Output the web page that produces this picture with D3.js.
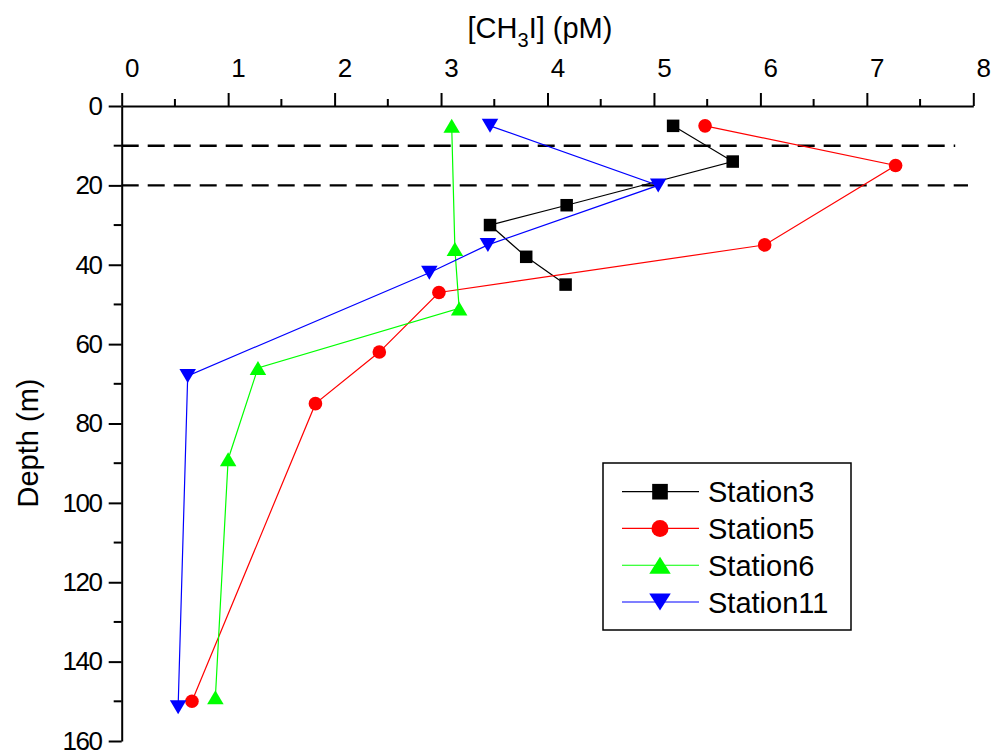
<!DOCTYPE html>
<html>
<head>
<meta charset="utf-8">
<script src="https://cdn.jsdelivr.net/npm/d3@7"></script>
<style>
  html, body { margin: 0; padding: 0; background: #fff; }
  svg { display: block; font-family: "Liberation Sans", Arial, sans-serif; }
</style>
</head>
<body>
<svg id="chart" width="992" height="751"></svg>
<script>
// ---- data ----
const xTicks = [0, 1, 2, 3, 4, 5, 6, 7, 8];
const yTicks = [0, 20, 40, 60, 80, 100, 120, 140, 160];
const stationNames = ["Station3", "Station5", "Station6", "Station11"];
const stationColors = ["#000000", "#ff0000", "#00ff00", "#0000ff"];
const stationSymbols = ["square", "circle", "triUp", "triDown"];

const station3Conc  = [5.18, 5.74, 4.18, 3.46, 3.80, 4.17];
const station3Depth = [5, 14, 25, 30, 38, 45];
const station5Conc  = [5.48, 7.27, 6.04, 2.98, 2.42, 1.82, 0.66];
const station5Depth = [5, 15, 35, 47, 62, 75, 150];
const station6Conc  = [3.10, 3.13, 3.17, 1.28, 1.00, 0.88];
const station6Depth = [5, 36, 51, 66, 89, 149];
const station11Conc  = [3.46, 5.04, 3.44, 2.89, 0.62, 0.53];
const station11Depth = [5, 20, 35, 42, 68, 151.5];

const refDepths = [10, 20];
const refEnds = [7.83, 7.95];

const series = [
  {conc: station3Conc, depth: station3Depth},
  {conc: station5Conc, depth: station5Depth},
  {conc: station6Conc, depth: station6Depth},
  {conc: station11Conc, depth: station11Depth}
].map((s, i) => ({
  name: stationNames[i], color: stationColors[i], symbol: stationSymbols[i],
  points: s.conc.map((c, j) => ({x: c, y: s.depth[j]}))
}));

// ---- layout ----
const svg = d3.select("#chart");
const x = d3.scaleLinear().domain([0, 8]).range([121.7, 973.3]);
const y = d3.scaleLinear().domain([0, 160]).range([106, 741]);

// symbol drawer
function drawSymbol(g, type, cx, cy, color, big) {
  const k = big ? 1.25 : 1;
  if (type === "square") {
    const s = 12.5 * k;
    g.append("rect").attr("x", cx - s / 2).attr("y", cy - s / 2)
      .attr("width", s).attr("height", s).attr("fill", color);
  } else if (type === "circle") {
    g.append("circle").attr("cx", cx).attr("cy", cy).attr("r", 6.8 * k).attr("fill", color);
  } else if (type === "triUp") {
    const w = (big ? 21.5 : 16.5), h = (big ? 17 : 14);
    g.append("path").attr("d", `M${cx - w / 2},${cy + h / 2}L${cx + w / 2},${cy + h / 2}L${cx},${cy - h / 2}Z`)
      .attr("fill", color);
  } else if (type === "triDown") {
    const w = (big ? 21.5 : 16.5), h = (big ? 17 : 14);
    g.append("path").attr("d", `M${cx - w / 2},${cy - h / 2}L${cx + w / 2},${cy - h / 2}L${cx},${cy + h / 2}Z`)
      .attr("fill", color);
  }
}

// ---- reference dashed lines ----
svg.append("g").selectAll("line").data(refDepths).join("line")
  .attr("x1", x(0)).attr("x2", (d, i) => x(refEnds[i]))
  .attr("y1", d => y(d)).attr("y2", d => y(d))
  .attr("stroke", "#000").attr("stroke-width", 2.4)
  .attr("stroke-dasharray", "17,9");

// ---- axes ----
const fontTick = 26;
const tickSpacing = -1.5;
const xMinor = d3.range(0.5, 8, 1);
const yMinor = d3.range(10, 160, 20);

const gx = svg.append("g").attr("transform", `translate(0,${y(0)})`);
gx.call(d3.axisTop(x).tickValues(xTicks).tickSize(13).tickSizeOuter(0).tickPadding(16).tickFormat(d3.format("d")));
gx.selectAll("text").attr("dx", 9.2).attr("font-size", fontTick).attr("letter-spacing", tickSpacing)
  .attr("font-family", "Liberation Sans, Arial, sans-serif").attr("fill", "#000");
gx.append("g").selectAll("line").data(xMinor).join("line")
  .attr("x1", d => x(d)).attr("x2", d => x(d)).attr("y1", 0).attr("y2", -7)
  .attr("stroke", "#000").attr("stroke-width", 2);

const gy = svg.append("g").attr("transform", `translate(${x(0)},0)`);
gy.call(d3.axisLeft(y).tickValues(yTicks).tickSize(13).tickSizeOuter(0).tickPadding(7.2).tickFormat(d3.format("d")));
gy.selectAll("text").attr("font-size", fontTick).attr("letter-spacing", tickSpacing)
  .attr("font-family", "Liberation Sans, Arial, sans-serif").attr("fill", "#000");
gy.append("g").selectAll("line").data(yMinor).join("line")
  .attr("x1", 0).attr("x2", -8).attr("y1", d => y(d)).attr("y2", d => y(d))
  .attr("stroke", "#000").attr("stroke-width", 2);

svg.selectAll(".domain, .tick line").attr("stroke", "#000").attr("stroke-width", 2);

// ---- series ----
const line = d3.line().x(d => x(d.x)).y(d => y(d.y));
series.forEach(s => {
  svg.append("path").datum(s.points).attr("d", line)
    .attr("fill", "none").attr("stroke", s.color).attr("stroke-width", 1.2);
});
series.forEach(s => {
  const g = svg.append("g");
  s.points.forEach(p => drawSymbol(g, s.symbol, x(p.x), y(p.y), s.color, false));
});

// ---- titles ----
const title = svg.append("text").attr("x", 540).attr("y", 38)
  .attr("text-anchor", "middle").attr("font-size", 29).attr("fill", "#000");
title.append("tspan").text("[CH");
title.append("tspan").attr("font-size", 20).attr("dy", 9).text("3");
title.append("tspan").attr("dy", -9).text("I] (pM)");

svg.append("text").attr("transform", "translate(38,443) rotate(-90)")
  .attr("text-anchor", "middle").attr("font-size", 29).attr("fill", "#000")
  .text("Depth (m)");

// ---- legend ----
const legend = svg.append("g");
legend.append("rect").attr("x", 603).attr("y", 463).attr("width", 248).attr("height", 167)
  .attr("fill", "#fff").attr("stroke", "#000").attr("stroke-width", 1.5);
const rowY = d3.scalePoint().domain(stationNames).range([491.7, 602]);
series.forEach(s => {
  const cy = rowY(s.name);
  legend.append("line").attr("x1", 622).attr("x2", 699).attr("y1", cy).attr("y2", cy)
    .attr("stroke", s.color).attr("stroke-width", 1.2);
  drawSymbol(legend, s.symbol, 660, cy, s.color, true);
  legend.append("text").attr("x", 708).attr("y", cy + 10.5)
    .attr("font-size", 29).attr("fill", "#000").text(s.name);
});
</script>
</body>
</html>
